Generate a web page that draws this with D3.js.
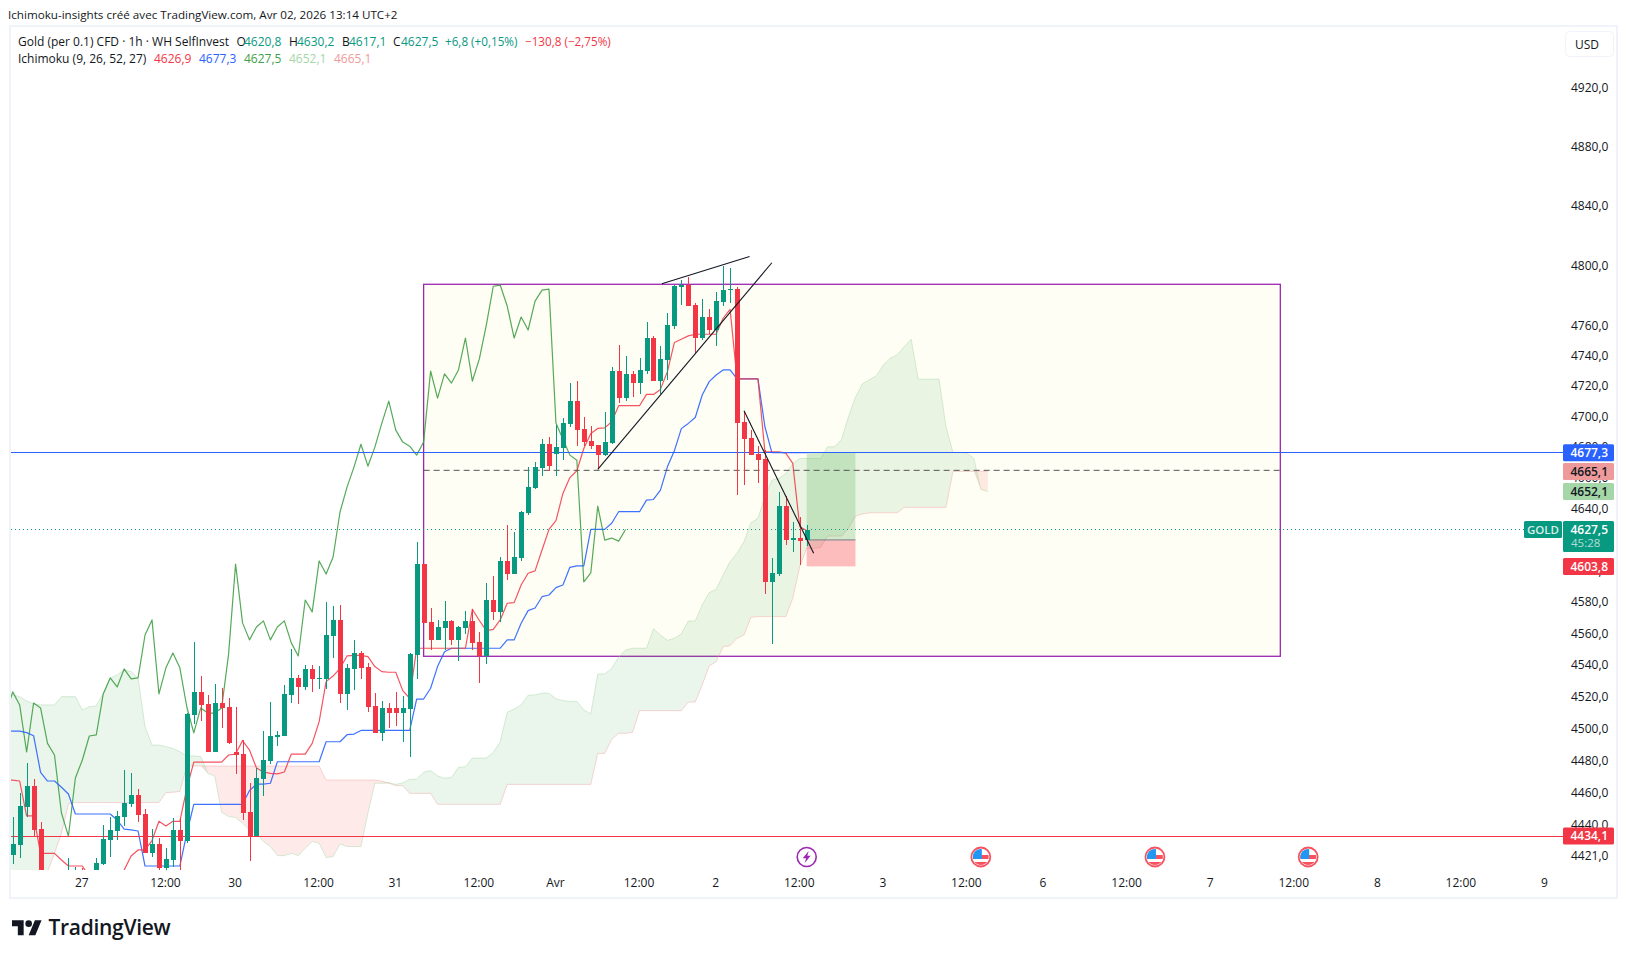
<!DOCTYPE html>
<html>
<head>
<meta charset="utf-8">
<title>Gold 1h Ichimoku</title>
<script src="https://cdn.jsdelivr.net/npm/d3@7"></script>
<style>
    html, body { margin: 0; padding: 0; background: #fff; }
    svg { display: block; }
    text { font-family: "Open Sans", "Noto Sans", sans-serif; }
</style>
</head>
<body>
<svg id="chart" width="1628" height="958"></svg>
<script>
"use strict";
// hourly candles. bars 4 to 12 run below the pane, their hidden parts are estimates
const opens = [4422.4,4428.6,4452.1,4465.1,4438.5,4405,4395,4398,4395,4400,4408,4396,4405,4416.9,4431.7,4437.3,4445.9,4453.9,4459.5,4447.7,
    4423.6,4429.2,4414.4,4419.3,4437.9,4431,4509.4,4524,4516.4,4486.3,4517,4514.5,4486.3,4485,4449,4434,4469.5,4480.7,4495.7,4496.3,
    4522,4532.8,4527.1,4538.5,4532.2,4532.2,4559.4,4569.6,4522.7,4538.5,4548.6,4539.8,4515.1,4498.2,4513.9,4513.9,4510.7,4513.3,4547.4,4605.3,
    4568.3,4556.9,4564.5,4569,4556.9,4564.5,4569,4555.6,4546.7,4582.3,4574.7,4607.3,4598.9,4609.2,4638.2,4654.3,4667.2,4682.8,4676.3,4680.2,
    4696,4711,4692.7,4684.8,4682.2,4675.7,4683.5,4730.8,4713,4728.9,4722.9,4730.8,4752.6,4724.2,4738.1,4760.6,4786.3,4787.7,4774.5,4752.6,
    4766.5,4757.9,4776.5,4784.4,4785.1,4697.3,4686.8,4676.3,4673,4593.8,4598.9,4642.6,4620.7,4622,4620.8];
const highs = [4446.1,4460.5,4479.2,4469.5,4442.6,4410,4408,4411,4420.7,4415.2,4414.2,4410,4420.7,4441,4445.7,4449.6,4475,4472.9,4463.2,4450.8,
    4438.5,4432.9,4426.5,4445,4445,4510.5,4555.4,4534,4522,4529,4526.5,4520,4514.5,4493.8,4467,4476,4499.5,4517.6,4499.5,4528.4,
    4551.1,4534.7,4541,4541,4540.4,4581,4578.5,4579.1,4541.6,4556.9,4549.9,4542.3,4523.3,4518.3,4517,4524,4521.4,4548.6,4619.5,4605.5,
    4577.2,4569.6,4581.7,4569.6,4565.8,4575.3,4576.6,4562,4593.2,4597.7,4609.8,4630.4,4625.9,4639.2,4667.9,4671.1,4686.1,4687.4,4695.3,4700,
    4722.9,4724.2,4700.5,4694.7,4682.4,4703.8,4733.4,4748,4740.7,4730.8,4739.4,4763.2,4753.9,4747.4,4769.2,4787.7,4791,4793,4775.8,4778.5,
    4771.8,4783,4800.3,4799,4786.4,4704.5,4692,4681.5,4678.9,4609.2,4651.7,4649.1,4632.3,4635.5,4630.2];
const lows = [4416.9,4420.5,4446.1,4433.7,4400,4388,4390,4392,4390,4392,4396,4390,4402,4416.5,4421.3,4431.7,4440,4452.3,4443,4423.6,
    4421.3,4412,4410,4415.2,4411,4429.6,4503.8,4505.9,4486,4486,4501.3,4491.3,4472.5,4444,4418.6,4433.8,4458.9,4478.8,4490,4496,
    4517,4516.4,4525.2,4524,4525.8,4525.8,4545.2,4516.8,4512.6,4525.2,4532.2,4511.4,4498,4493.2,4501.3,4502.6,4492.5,4483.4,4532.2,4567.5,
    4550.5,4556.7,4550.5,4553.7,4543.6,4560.7,4550.5,4529.8,4541.7,4569.6,4568.3,4595.1,4598.7,4607.3,4636.9,4653.6,4662,4665.3,4662,4672.4,
    4694,4681.5,4681.5,4679.6,4666.6,4675,4682.8,4709.7,4711,4713.7,4715.6,4728.9,4724,4715.6,4724.9,4758.6,4774.5,4773.6,4742.7,4751.3,
    4755.3,4747.4,4773.8,4775.8,4649.7,4656.2,4675.5,4657.5,4586.1,4554.3,4597.7,4617.5,4613,4604.7,4617.1];
const closes = [4429.2,4452.7,4465.1,4437.9,4405,4395,4402,4406,4405,4408,4400,4405,4417.2,4432.3,4437.9,4446.5,4454.5,4459.5,4447.1,4423.6,
    4429.2,4414.4,4419.9,4437.9,4431,4510,4524,4515.8,4486.3,4517,4513.9,4491.7,4484.4,4448.3,4434,4470.1,4481.3,4496.3,4497,4522.7,
    4532.8,4527.1,4538.5,4532.2,4532.8,4560,4569.6,4522.7,4539.2,4548.6,4539.2,4514.5,4498.2,4513.9,4510.7,4510.7,4513.9,4548,4605.3,4567.7,
    4556.9,4565.1,4569,4556.9,4565.1,4569,4555,4546.7,4582.3,4574.7,4607.3,4598.9,4609.8,4638.8,4654.9,4667.9,4682.8,4668.5,4680.9,4696.6,
    4711,4692,4684.2,4681.5,4675.7,4684.2,4730.8,4713,4728.9,4722.9,4731.5,4752.6,4724.2,4738.8,4761.2,4787,4787.7,4773.8,4752.6,4766.5,
    4757.9,4777.1,4784.4,4785.1,4696.6,4686.1,4675.7,4672.4,4593.8,4599.6,4642.6,4620.7,4622,4620,4627.5];

// ichimoku lines. these start one bar earlier than the candles, that bar sits under the left edge of the pane
const tenkan = [4468.8,4468.8,4468.2,4446.5,4446.5,4423.4,4423.4,4423.4,4419.3,4415.6,4415.6,4415.6,4409,4405,4405,4405,4408,4413.1,4421.8,4425.5,4425.5,
    4431.3,4443.2,4440.3,4443.2,4443.2,4463.7,4480,4480,4480,4480,4480,4484.4,4485,4493.4,4487.5,4476.3,4473.8,4473,4472.6,4473.8,
    4485,4485,4485,4491.7,4505.3,4530.5,4534,4538.9,4546.7,4547.1,4547.1,4546.3,4540,4536.8,4536.4,4536.4,4524.8,4520,4551.6,4551.6,
    4551.6,4551.6,4551.6,4551.6,4551.6,4551.6,4576.4,4569.2,4562.8,4563.6,4569.6,4580.2,4580.6,4591.9,4599.4,4600.9,4614.3,4627.6,4633.2,4650.8,
    4661.1,4665.5,4680,4689.8,4693.1,4693.5,4697.5,4708,4708,4708,4708,4715.4,4715.4,4718.7,4730.4,4749.6,4751.8,4754,4755.1,4755.1,
    4755.1,4755.1,4765.7,4771.6,4725.6,4725.6,4725.6,4725.6,4677.8,4677.8,4677.8,4677,4670.3,4629.3,4626.9];
const kijun = [4499.4,4499.4,4499.4,4498.4,4496.5,4473.6,4468.2,4468.2,4464.3,4460.1,4447.7,4447.7,4447.7,4447.7,4447.7,4447.7,4444,4438.3,4437.9,4437.2,4415.6,
    4415.6,4415.6,4415.6,4415.6,4415.6,4435.8,4453.7,4453.7,4453.7,4453.7,4453.7,4453.7,4453.7,4453.7,4462.3,4466.2,4466.2,4466.8,4480.2,4480.2,
    4480.2,4480.2,4480.2,4480.2,4480.2,4492.7,4492.7,4492.7,4497.1,4497.5,4499.8,4499.8,4499.8,4499.8,4499.8,4499.8,4499.8,4499.8,4519.5,4519.5,
    4526.3,4540,4549.4,4551.6,4551.6,4551.6,4551.6,4551.6,4551.6,4551.6,4551.6,4556.9,4556.9,4567.5,4575.5,4577.2,4584.4,4585.5,4590.2,4591.9,
    4603.2,4604.1,4604.1,4627.6,4627.6,4627.6,4631.5,4639,4639,4639,4639,4646.5,4646.9,4653,4668.1,4678.5,4693,4696.4,4700.3,4715,
    4723.8,4728.2,4731.5,4731.5,4725.6,4725.6,4725.6,4725.6,4694.2,4677.3,4677.3,4677.3,4677.3,4677.3,4677.3];
const lagging = [4510,4524,4515.8,4486.3,4517,4513.9,4491.7,4484.4,4448.3,4434,4470.1,4481.3,4496.3,4497,4522.7,
    4532.8,4527.1,4538.5,4532.2,4532.8,4560,4569.6,4522.7,4539.2,4548.6,4539.2,4514.5,4498.2,4513.9,4510.7,4510.7,4513.9,4548,4605.3,4567.7,
    4556.9,4565.1,4569,4556.9,4565.1,4569,4555,4546.7,4582.3,4574.7,4607.3,4598.9,4609.8,4638.8,4654.9,4667.9,4682.8,4668.5,4680.9,4696.6,
    4711,4692,4684.2,4681.5,4675.7,4684.2,4730.8,4713,4728.9,4722.9,4731.5,4752.6,4724.2,4738.8,4761.2,4787,4787.7,4773.8,4752.6,4766.5,
    4757.9,4777.1,4784.4,4785.1,4696.6,4686.1,4675.7,4672.4,4593.8,4599.6,4642.6,4620.7,4622,4620,4627.5];
const senkouA = [4522.1,4522.1,4521,4518.3,4516.4,4515.8,4515.8,4515.8,4521,4521,4521,4512.6,4514.7,4515.1,4523.1,4532.6,4534.7,4537.9,4536.8,4532.6,4502.2,
    4490.6,4490.6,4489.6,4488.5,4486.5,4483.8,4483.8,4483.4,4473,4471.3,4448.8,4446.1,4445.5,4442,4437.9,4435.8,4430.7,4427.6,4422,4422,
    4423.4,4422,4426.5,4430.7,4429.6,4420.8,4421.4,4429.2,4427.6,4427.6,4427.6,4448.2,4466.8,4466.8,4467.2,4466.1,4467,4469.3,4469.3,4473.7,
    4474.7,4471.4,4469.9,4470.4,4476.7,4477.1,4482.5,4482.5,4482.5,4486,4492.7,4511.2,4513.2,4515.8,4521.9,4522.1,4523.2,4523.2,4519.7,4518.5,
    4518,4518,4512.6,4510.1,4535.3,4535.3,4538.9,4545.9,4550.5,4551.6,4551.6,4551.6,4563.9,4560,4556.6,4557.9,4560.7,4568.9,4568.9,4579.1,
    4587,4589.1,4598.3,4606.8,4612.2,4619.7,4631.9,4634.7,4648.7,4659.5,4660.5,4663.8,4670.3,4673.5,4673.5,4673.5,4673.5,4681.1,4681.1,4685.9,
    4700.8,4713.5,4722.4,4725,4727.6,4734.8,4739.2,4741.4,4746.9,4751.8,4725.4,4725.4,4725.4,4725.4,4694.2,4677.4,4677.4,4677.2,4673.5,4653.4,4652.1];
const senkouB = [4400,4400,4400,4400,4400,4400,4412.1,4423.4,4435.8,4453.9,4454.8,4454.8,4454.8,4454.8,4454.8,4454.8,4454.8,4454.8,4454.8,4454.8,4454.8,
    4454.8,4454.8,4461,4461.2,4461.7,4477.5,4477.5,4477.5,4477.5,4477.5,4477.5,4477.5,4477.5,4477.5,4477.5,4477.5,4477.5,4477.5,4477.5,4477.5,
    4477.5,4477.5,4477.5,4477.5,4477.5,4468.8,4468.8,4468.8,4468.8,4468.8,4468.8,4468.8,4468.8,4468.2,4466.8,4465.3,4465.3,4460.5,4460.5,4460.5,
    4460.5,4453.7,4453.7,4453.7,4453.7,4453.7,4453.7,4453.7,4453.7,4453.7,4453.7,4466.1,4466.1,4466.1,4466.1,4466.1,4466.1,4466.1,4466.1,4466.1,
    4466.1,4466.1,4466.1,4466.1,4485.4,4485.4,4494.2,4498,4498,4498.6,4512.2,4512.2,4512.2,4512.2,4512.2,4512.2,4512.2,4517.6,4517.6,4528.4,
    4540.4,4543.1,4552.6,4553.3,4557.9,4560,4571.3,4571.7,4571.7,4571.7,4571.7,4571.7,4583.4,4603.6,4615.4,4615.4,4616,4623.3,4623.3,4623.3,
    4628.3,4636.2,4637.5,4638.3,4638.3,4638.3,4638.3,4638.3,4641.8,4641.8,4641.8,4641.8,4641.8,4641.8,4641.8,4665.1,4665.1,4665.1,4665.1,4665.1,4665.1];

// axes
const priceTicks = [4920,4880,4840,4800,4760,4740,4720,4700,4680,4660,4640,4600,4580,4560,4540,4520,4500,4480,4460,4440,4421];
const timeTicks = [10,22,32,44,55,67,78,90,101,113,125,137,148,160,172,184,196,208,220];
const timeLabels = ["27","12:00","30","12:00","31","12:00","Avr","12:00","2","12:00","3","12:00","6","12:00","7","12:00","8","12:00","9"];

// drawings: [bar, price]
const boxBars = [59, 182];
const boxPrices = [4788.3, 4546.5, 4665.8];
const riseLine = [[84, 4666.4], [109, 4802.7]];
const topLine = [[93.2, 4788.6], [105.8, 4806.9]];
const fallLine = [[105, 4704.7], [115, 4612.2]];
const positionBars = [114, 121];
const positionPrices = [4677.3, 4620.8, 4603.8];
const eventBars = [139, 164, 186];
const lightningBar = 114;

const green = "#089981", red = "#f23645", blue = "#2962ff", ink = "#131722";
const frameColor = "#f0f3fa";

const paneLeft = 11, paneRight = 1563, paneTop = 27, paneBottom = 870;

const x = d3.scaleLinear().domain([0, 114]).range([12.7, 806.7]);
const y = d3.scaleLog().domain([4434.1, 4920]).range([836, 89.5]);
const fmt = d3.formatLocale({decimal: ",", thousands: "", grouping: [3], currency: ["", ""]}).format(".1f");

let svg = d3.select("#chart");

svg.append("defs").append("clipPath").attr("id", "pane").append("rect")
    .attr("x", paneLeft).attr("y", paneTop)
    .attr("width", paneRight - paneLeft).attr("height", paneBottom - paneTop);

// frame
svg.append("rect").attr("x", 10).attr("y", 26).attr("width", 1607).attr("height", 872)
    .attr("fill", "none").attr("stroke", frameColor).attr("stroke-width", 2);

let pane = svg.append("g").attr("clip-path", "url(#pane)");

// purple box goes under everything
pane.append("rect")
    .attr("x", x(boxBars[0])).attr("y", y(boxPrices[0]))
    .attr("width", x(boxBars[1]) - x(boxBars[0]))
    .attr("height", y(boxPrices[1]) - y(boxPrices[0]))
    .attr("fill", "#fffef5").attr("stroke", "#9c27b0").attr("stroke-width", 1.3);

// cloud, two areas meeting on the lower of the two spans
const cloudBars = d3.range(senkouA.length);
pane.append("path").datum(cloudBars)
    .attr("fill", "rgba(67,160,71,0.11)")
    .attr("d", d3.area().x(i => x(i - 1))
        .y1(i => y(senkouA[i]))
        .y0(i => y(Math.min(senkouA[i], senkouB[i]))));
pane.append("path").datum(cloudBars)
    .attr("fill", "rgba(244,67,54,0.11)")
    .attr("d", d3.area().x(i => x(i - 1))
        .y1(i => y(senkouB[i]))
        .y0(i => y(Math.min(senkouA[i], senkouB[i]))));

function seriesLine(values, color, width, opacity) {
    pane.append("path").datum(values)
        .attr("fill", "none").attr("stroke", color)
        .attr("stroke-width", width).attr("stroke-opacity", opacity)
        .attr("stroke-linejoin", "round")
        .attr("d", d3.line().x((d, i) => x(i - 1)).y(d => y(d)));
}
seriesLine(senkouA, "#a5d6a7", 1, 0.45);
seriesLine(senkouB, "#ef9a9a", 1, 0.4);
seriesLine(lagging, "#43a047", 1.2, 0.9);
seriesLine(kijun, blue, 1.2, 0.9);
seriesLine(tenkan, "#f23645", 1.2, 0.85);

// long position tool
pane.append("rect")
    .attr("x", x(positionBars[0])).attr("y", y(positionPrices[0]))
    .attr("width", x(positionBars[1]) - x(positionBars[0]))
    .attr("height", y(positionPrices[1]) - y(positionPrices[0]))
    .attr("fill", "rgba(76,175,80,0.25)");
pane.append("rect")
    .attr("x", x(positionBars[0])).attr("y", y(positionPrices[1]))
    .attr("width", x(positionBars[1]) - x(positionBars[0]))
    .attr("height", y(positionPrices[2]) - y(positionPrices[1]))
    .attr("fill", "rgba(249,40,60,0.3)");
pane.append("line")
    .attr("x1", x(positionBars[0])).attr("x2", x(positionBars[1]))
    .attr("y1", y(positionPrices[1])).attr("y2", y(positionPrices[1]))
    .attr("stroke", "#787b86").attr("stroke-width", 1);

// price lines
function priceLine(price, color, x2, dash) {
    let py = Math.round(y(price) - 0.5) + 0.5;
    pane.append("line")
        .attr("x1", paneLeft).attr("x2", x2)
        .attr("y1", py).attr("y2", py)
        .attr("stroke", color).attr("stroke-width", 1)
        .attr("stroke-dasharray", dash);
}
priceLine(closes[closes.length - 1], green, 1524, "1 3");
priceLine(kijun[kijun.length - 1], blue, paneRight, null);
priceLine(4434.1, red, paneRight, null);

// middle of the box
pane.append("line")
    .attr("x1", x(boxBars[0])).attr("x2", x(boxBars[1]))
    .attr("y1", y(boxPrices[2])).attr("y2", y(boxPrices[2]))
    .attr("stroke", "#555").attr("stroke-width", 1)
    .attr("stroke-dasharray", "6 4");

// candles
let candles = pane.append("g").attr("shape-rendering", "crispEdges");
closes.forEach((c, i) => {
    let color = c >= opens[i] ? green : red;
    let top = y(Math.max(opens[i], c));
    let bottom = y(Math.min(opens[i], c));
    let cx = Math.round(x(i));
    candles.append("rect")
        .attr("x", cx).attr("width", 1)
        .attr("y", y(highs[i])).attr("height", y(lows[i]) - y(highs[i]))
        .attr("fill", color);
    candles.append("rect")
        .attr("x", cx - 2).attr("width", 5)
        .attr("y", Math.round(top)).attr("height", Math.max(1, Math.round(bottom) - Math.round(top)))
        .attr("fill", color);
});

// trend lines
for (let seg of [riseLine, topLine, fallLine]) {
    pane.append("line")
        .attr("x1", x(seg[0][0])).attr("y1", y(seg[0][1]))
        .attr("x2", x(seg[1][0])).attr("y2", y(seg[1][1]))
        .attr("stroke", ink).attr("stroke-width", 1.1);
}

// price scale
let priceAxis = svg.append("g")
    .attr("transform", "translate(1571,-1.5)")
    .call(d3.axisRight(y).tickValues(priceTicks).tickSize(0).tickPadding(0).tickFormat(fmt));
priceAxis.select(".domain").remove();
priceAxis.selectAll("text")
    .attr("font-family", "'Open Sans', sans-serif").attr("font-size", 12).attr("fill", ink);

// time scale
let timeAxis = svg.append("g")
    .attr("transform", "translate(-1,878.5)")
    .call(d3.axisBottom(x).tickValues(timeTicks).tickSize(0).tickPadding(0)
        .tickFormat((d, i) => timeLabels[i]));
timeAxis.select(".domain").remove();
timeAxis.selectAll("text")
    .attr("font-family", "'Open Sans', sans-serif").attr("font-size", 12).attr("fill", ink);

// labels on the price scale
function priceTag(price, label, bg, fg) {
    let py = y(price);
    svg.append("rect").attr("x", 1563).attr("y", py - 8.5).attr("width", 51).attr("height", 17)
        .attr("rx", 1.5).attr("fill", bg);
    svg.append("text").attr("x", 1608).attr("y", py + 4.4).attr("text-anchor", "end")
        .attr("font-size", 12).attr("font-weight", 600).attr("fill", fg).text(label);
}
priceTag(4665.1, fmt(4665.1), "#ef9a9a", ink);
priceTag(4652.1, fmt(4652.1), "#a5d6a7", ink);
priceTag(4677.3, fmt(4677.3), blue, "#fff");
priceTag(4603.8, fmt(4603.8), red, "#fff");
priceTag(4434.1, fmt(4434.1), red, "#fff");

// current price with countdown
let lastY = y(closes[closes.length - 1]);
svg.append("rect").attr("x", 1563).attr("y", lastY - 8.5).attr("width", 51).attr("height", 31)
    .attr("rx", 1.5).attr("fill", green);
svg.append("text").attr("x", 1608).attr("y", lastY + 4.4).attr("text-anchor", "end")
    .attr("font-size", 12).attr("font-weight", 600).attr("fill", "#fff").text(fmt(4627.5));
svg.append("text").attr("x", 1571).attr("y", lastY + 17).attr("font-size", 11.5)
    .attr("fill", "#fff").attr("fill-opacity", 0.7).text("45:28");
svg.append("rect").attr("x", 1524).attr("y", lastY - 8.5).attr("width", 38).attr("height", 17)
    .attr("rx", 1.5).attr("fill", green);
svg.append("text").attr("x", 1543).attr("y", lastY + 4.4).attr("text-anchor", "middle")
    .attr("font-size", 11.5).attr("font-weight", 600).attr("fill", "#fff").attr("fill-opacity", 0.85).text("GOLD");

// USD button
svg.append("rect").attr("x", 1565.5).attr("y", 31.5).attr("width", 48).attr("height", 25)
    .attr("rx", 4).attr("fill", "#fff").attr("stroke", frameColor);
svg.append("text").attr("x", 1575).attr("y", 49).attr("font-size", 12).attr("fill", ink).text("USD");

// header
function legendText(tx, ty, str, color, size) {
    svg.append("text").attr("x", tx).attr("y", ty).attr("font-size", size || 12).attr("fill", color).text(str);
}
legendText(8, 19, "Ichimoku-insights créé avec TradingView.com, Avr 02, 2026 13:14 UTC+2", ink, 11.65);
legendText(18, 46, "Gold (per 0.1) CFD · 1h · WH SelfInvest", ink);
legendText(236.5, 46, "O", ink);
legendText(244, 46, "4620,8", green);
legendText(289, 46, "H", ink);
legendText(297, 46, "4630,2", green);
legendText(342, 46, "B", ink);
legendText(349, 46, "4617,1", green);
legendText(393, 46, "C", ink);
legendText(401, 46, "4627,5", green);
legendText(445, 46, "+6,8 (+0,15%)", green, 11.7);
legendText(525, 46, "−130,8 (−2,75%)", red, 11.7);
legendText(18, 63, "Ichimoku (9, 26, 52, 27)", ink);
legendText(154, 63, "4626,9", red);
legendText(199, 63, "4677,3", blue);
legendText(244, 63, "4627,5", "#43a047");
legendText(289, 63, "4652,1", "#a5d6a7");
legendText(334, 63, "4665,1", "#ef9a9a");

// event markers under the candles
let lightning = svg.append("g").attr("transform", `translate(${x(lightningBar)},857)`);
lightning.append("circle").attr("r", 9.5).attr("fill", "#fff").attr("stroke", "#9c27b0").attr("stroke-width", 1.6);
lightning.append("path").attr("d", "M2,-6 L-4,1.2 L-0.6,1.2 L-2,6 L4,-1.2 L0.6,-1.2 Z").attr("fill", "#9c27b0");

eventBars.forEach((bar, k) => {
    let g = svg.append("g").attr("transform", `translate(${x(bar)},857)`);
    g.append("clipPath").attr("id", "flag" + k).append("circle").attr("r", 8);
    g.append("circle").attr("r", 10).attr("fill", "#fff").attr("stroke", "none");
    let flag = g.append("g").attr("clip-path", `url(#flag${k})`);
    flag.append("rect").attr("x", -8).attr("y", -8).attr("width", 16).attr("height", 16).attr("fill", "#fff");
    flag.append("rect").attr("x", -8).attr("y", -2).attr("width", 16).attr("height", 4).attr("fill", "#f7525f");
    flag.append("rect").attr("x", -8).attr("y", 5).attr("width", 16).attr("height", 3).attr("fill", "#f7525f");
    flag.append("rect").attr("x", -8).attr("y", -8).attr("width", 9).attr("height", 10).attr("fill", "#2196f3");
    g.append("circle").attr("r", 9.5).attr("fill", "none").attr("stroke", "#f7525f").attr("stroke-width", 1.8);
});

// TradingView mark and name
svg.append("g").attr("transform", "translate(12,917) scale(0.833)").attr("fill", ink)
    .html('<path d="M14 22H7V11H0V4h14v18zM28 22h-8l7.5-18h8L28 22z"/><circle cx="20" cy="8" r="4"/>');
svg.append("text").attr("x", 48.5).attr("y", 935)
    .attr("font-family", "Inter, sans-serif").attr("font-size", 21).attr("font-weight", 600)
    .attr("letter-spacing", -0.3).attr("fill", ink).text("TradingView");
</script>
</body>
</html>
